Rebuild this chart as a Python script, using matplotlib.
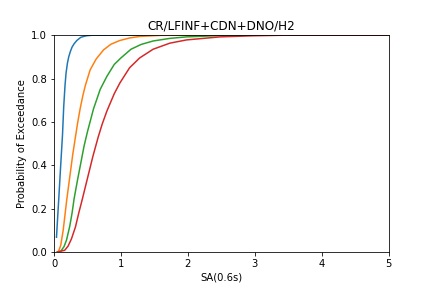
import matplotlib
matplotlib.use("Agg")
import matplotlib.pyplot as plt

# fragility curves
blue_x = [0.037, 0.072, 0.10, 0.127, 0.145, 0.165, 0.18, 0.20, 0.22, 0.245, 0.27, 0.30, 0.34, 0.40, 0.48, 0.58, 5.0]
blue_p = [0.068, 0.25, 0.40, 0.54, 0.67, 0.77, 0.825, 0.87, 0.90, 0.925, 0.945, 0.96, 0.975, 0.99, 0.997, 1.0, 1.0]

orange_x = [0.05, 0.07, 0.10, 0.137, 0.16, 0.19, 0.22, 0.25, 0.28, 0.32, 0.35, 0.39, 0.43, 0.47, 0.54, 0.63, 0.74, 0.85, 0.98, 1.13, 1.28, 1.6, 2.0, 5.0]
orange_p = [0.0, 0.005, 0.03, 0.10, 0.16, 0.24, 0.31, 0.38, 0.45, 0.53, 0.59, 0.66, 0.72, 0.77, 0.84, 0.89, 0.932, 0.958, 0.975, 0.987, 0.994, 0.999, 1.0, 1.0]

green_x = [0.05, 0.10, 0.15, 0.187, 0.236, 0.27, 0.30, 0.35, 0.40, 0.45, 0.50, 0.59, 0.69, 0.79, 0.90, 1.0, 1.15, 1.3, 1.48, 1.73, 1.98, 2.48, 3.0, 5.0]
green_p = [0.0, 0.003, 0.025, 0.055, 0.12, 0.18, 0.245, 0.33, 0.41, 0.49, 0.555, 0.66, 0.75, 0.81, 0.865, 0.895, 0.935, 0.957, 0.973, 0.985, 0.992, 0.998, 1.0, 1.0]

red_x = [0.05, 0.16, 0.21, 0.26, 0.32, 0.37, 0.42, 0.50, 0.58, 0.66, 0.72, 0.79, 0.90, 0.985, 1.13, 1.28, 1.48, 1.73, 1.98, 2.48, 2.97, 3.5, 5.0]
red_p = [0.0, 0.008, 0.027, 0.06, 0.115, 0.18, 0.24, 0.34, 0.44, 0.53, 0.59, 0.65, 0.73, 0.78, 0.85, 0.895, 0.935, 0.963, 0.978, 0.992, 0.997, 1.0, 1.0]

fig = plt.figure(figsize=(6, 4), dpi=72)
ax = fig.add_subplot(111)
fig.subplots_adjust(left=0.125, right=0.9, bottom=0.125, top=0.878)

ax.plot(blue_x, blue_p, color="C0")
ax.plot(orange_x, orange_p, color="C1")
ax.plot(green_x, green_p, color="C2")
ax.plot(red_x, red_p, color="C3")

ax.set_xlim(0, 5)
ax.set_ylim(0, 1)
ax.set_title("CR/LFINF+CDN+DNO/H2")
ax.set_xlabel("SA(0.6s)")
ax.set_ylabel("Probability of Exceedance")

fig.savefig("out.png", dpi=72)
